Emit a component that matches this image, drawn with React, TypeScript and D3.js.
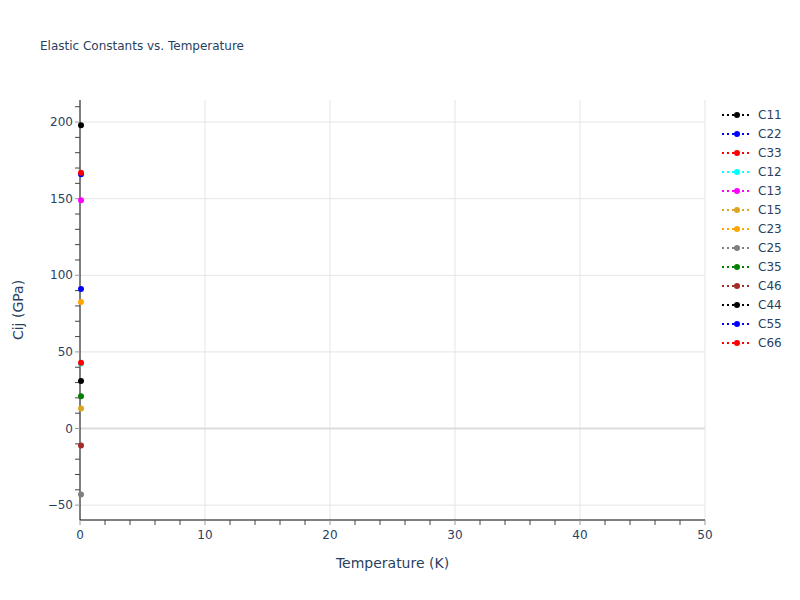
import React from "react";
import * as d3 from "d3";

const seriesNames = ["C11", "C22", "C33", "C12", "C13", "C15", "C23", "C25", "C35", "C46", "C44", "C55", "C66"];
const seriesColors = ["black", "blue", "red", "cyan", "magenta", "goldenrod", "orange", "gray", "green", "brown", "black", "blue", "red"];
const seriesTemps = [[0], [0], [0], [0], [0], [0], [0], [0], [0], [0], [0], [0], [0]];
const seriesValues = [[198], [166], [167], [42.5], [149], [13], [82.5], [-43], [21], [-11], [31], [91], [43]];
const xTicks = [0, 10, 20, 30, 40, 50];
const yTicks = [-50, 0, 50, 100, 150, 200];

const W = 800, H = 600;
const L = 80, R = 705, T = 100, B = 520;
const FONT = "'DejaVu Sans', Verdana, sans-serif";
const TXT = "#2a3f5f";

export default function App() {
  const x = d3.scaleLinear().domain([0, 50]).range([L, R]);
  const y = d3.scaleLinear().domain([-59.7, 214.4]).range([B, T]);
  const xMinor = d3.range(0, 50.001, 2);
  const yMinor = d3.range(-50, 214, 10);
  return (
    <svg width={W} height={H} style={{ display: "block", position: "absolute", left: 0, top: 0, background: "white" }}>
      <rect x={0} y={0} width={W} height={H} fill="white" />
      {xTicks.filter(t => t !== 0).map(t => (
        <line key={"gx" + t} x1={x(t)} x2={x(t)} y1={T} y2={B} stroke="#e5e5e5" strokeWidth={1} />
      ))}
      {yTicks.filter(t => t !== 0).map(t => (
        <line key={"gy" + t} x1={L} x2={R} y1={y(t)} y2={y(t)} stroke="#e5e5e5" strokeWidth={1} />
      ))}
      <line x1={L} x2={R} y1={y(0)} y2={y(0)} stroke="#dcdcdc" strokeWidth={2} />
      {/* axes */}
      <line x1={L} x2={L} y1={T} y2={B} stroke="black" strokeWidth={1} />
      <line x1={L} x2={R} y1={B} y2={B} stroke="black" strokeWidth={1} />
      {xMinor.map(t => (
        <line key={"mx" + t} x1={x(t)} x2={x(t)} y1={B} y2={B + 5} stroke={xTicks.includes(t) ? "#999" : "#444"} strokeWidth={1} />
      ))}
      {yMinor.map(t => (
        <line key={"my" + t} x1={L - 5} x2={L} y1={y(t)} y2={y(t)} stroke={yTicks.includes(t) ? "#999" : "#444"} strokeWidth={1} />
      ))}
      {xTicks.map(t => (
        <text key={"tx" + t} x={x(t)} y={B + 19} textAnchor="middle" fontFamily={FONT} fontSize={12} fill={TXT}>{t}</text>
      ))}
      {yTicks.map(t => (
        <text key={"ty" + t} x={L - 7} y={y(t)} dy="0.35em" textAnchor="end" fontFamily={FONT} fontSize={12} fill={TXT}>{t < 0 ? "\u2212" + Math.abs(t) : t}</text>
      ))}
      {/* points */}
      {seriesNames.map((n, i) => (
        <g key={"s" + n}>
          <path d={d3.line<number>().x((_, j) => x(seriesTemps[i][j])).y(v => y(v))(seriesValues[i]) || ""} fill="none" stroke={seriesColors[i]} strokeWidth={2} strokeDasharray="2,3" />
          {seriesValues[i].map((v, j) => (
            <circle key={j} cx={x(seriesTemps[i][j]) + 1} cy={y(v)} r={3} fill={seriesColors[i]} />
          ))}
        </g>
      ))}
      {/* title & labels */}
      <text x={40} y={50} fontFamily={FONT} fontSize={12} fill={TXT}>Elastic Constants vs. Temperature</text>
      <text x={(L + R) / 2} y={568} textAnchor="middle" fontFamily={FONT} fontSize={14} fill={TXT}>Temperature (K)</text>
      <text transform={`translate(23,${(T + B) / 2}) rotate(-90)`} textAnchor="middle" fontFamily={FONT} fontSize={14} fill={TXT}>Cij (GPa)</text>
      {/* legend */}
      {seriesNames.map((n, i) => {
        const ly = 115 + i * 19;
        return (
          <g key={"l" + n}>
            <line x1={722} x2={752} y1={ly} y2={ly} stroke={seriesColors[i]} strokeWidth={2} strokeDasharray="2,3" />
            <circle cx={737} cy={ly} r={3} fill={seriesColors[i]} />
            <text x={758} y={ly} dy="0.35em" fontFamily={FONT} fontSize={12} fill={TXT}>{n}</text>
          </g>
        );
      })}
    </svg>
  );
}
